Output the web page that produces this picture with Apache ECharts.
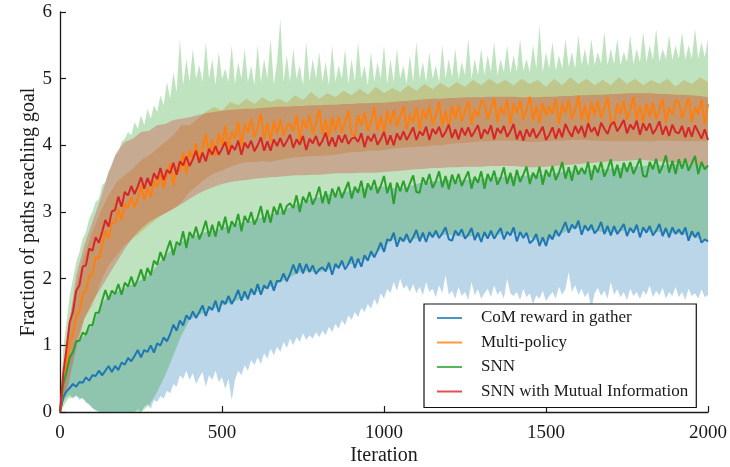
<!DOCTYPE html>
<html>
<head>
<meta charset="utf-8">
<script src="https://cdn.jsdelivr.net/npm/echarts@6/dist/echarts.min.js"></script>
<style>
  html, body { margin: 0; padding: 0; background: #fff; }
  #chart { width: 730px; height: 467px; }
</style>
</head>
<body>
<div id="chart"></div>
<script>
// Mean curves: one value every LINE_STEP iterations (0..2000)
const LINE_STEP = 10;
// Band edges: coarse edges every BAND_STEP, ragged edges every FINE_STEP
const BAND_STEP = 25;
const FINE_STEP = 10;

const seriesNames = ['CoM reward in gather', 'Multi-policy', 'SNN', 'SNN with Mutual Information'];
const seriesColors = ['#1f77b4', '#ff7f0e', '#2ca02c', '#d62728'];
const xTicks = [0, 500, 1000, 1500, 2000];
const yTicks = [0, 1, 2, 3, 4, 5, 6];

const comMean = [0.0,
  0.22, 0.31, 0.36, 0.42, 0.38, 0.45, 0.44, 0.52, 0.47, 0.55,
  0.54, 0.62, 0.55, 0.62, 0.69, 0.6, 0.69, 0.63, 0.74, 0.71,
  0.81, 0.76, 0.84, 0.93, 0.82, 0.93, 0.9, 1.0, 0.89, 1.03,
  1.0, 1.12, 1.06, 1.17, 1.31, 1.22, 1.37, 1.3, 1.45, 1.39,
  1.51, 1.41, 1.5, 1.6, 1.44, 1.58, 1.53, 1.67, 1.5, 1.67,
  1.62, 1.74, 1.62, 1.71, 1.83, 1.67, 1.81, 1.69, 1.85, 1.76,
  1.92, 1.76, 1.9, 1.85, 1.97, 1.82, 1.97, 1.96, 2.08, 1.96,
  2.07, 2.21, 2.08, 2.23, 2.08, 2.22, 2.1, 2.2, 2.07, 2.14,
  2.17, 2.11, 2.24, 2.06, 2.22, 2.16, 2.27, 2.14, 2.22, 2.33,
  2.16, 2.3, 2.18, 2.35, 2.27, 2.41, 2.32, 2.42, 2.54, 2.4,
  2.59, 2.57, 2.69, 2.48, 2.62, 2.56, 2.67, 2.54, 2.62, 2.73,
  2.56, 2.69, 2.55, 2.7, 2.62, 2.72, 2.61, 2.68, 2.77, 2.59,
  2.57, 2.72, 2.65, 2.74, 2.6, 2.66, 2.76, 2.58, 2.69, 2.55,
  2.7, 2.6, 2.72, 2.6, 2.68, 2.76, 2.59, 2.7, 2.65, 2.77,
  2.56, 2.7, 2.61, 2.69, 2.53, 2.58, 2.67, 2.49, 2.62, 2.49,
  2.66, 2.59, 2.73, 2.64, 2.74, 2.85, 2.69, 2.81, 2.75, 2.87,
  2.66, 2.8, 2.72, 2.81, 2.68, 2.74, 2.85, 2.67, 2.79, 2.65,
  2.79, 2.67, 2.74, 2.82, 2.64, 2.76, 2.69, 2.81, 2.62, 2.77,
  2.69, 2.79, 2.65, 2.72, 2.82, 2.64, 2.76, 2.62, 2.77, 2.67,
  2.74, 2.66, 2.77, 2.57, 2.71, 2.62, 2.7, 2.54, 2.59, 2.56];

const multiMean = [0.0,
  0.38, 0.72, 1.06, 1.16, 1.44, 1.5, 1.78, 1.82, 2.04, 2.06,
  2.33, 2.3, 2.5, 2.72, 2.6, 2.84, 2.84, 3.04, 2.88, 3.12,
  3.06, 3.23, 3.07, 3.21, 3.39, 3.18, 3.37, 3.22, 3.47, 3.37,
  3.59, 3.36, 3.54, 3.73, 3.4, 3.67, 3.61, 3.9, 3.57, 3.93,
  3.8, 4.03, 3.77, 3.95, 4.17, 3.83, 4.09, 3.84, 4.18, 4.0,
  4.29, 3.95, 4.2, 4.1, 4.35, 3.99, 4.32, 4.19, 4.4, 4.12,
  4.27, 4.47, 4.1, 4.33, 4.06, 4.37, 4.17, 4.39, 4.14, 4.29,
  4.33, 4.21, 4.45, 4.07, 4.39, 4.25, 4.46, 4.17, 4.33, 4.54,
  4.17, 4.39, 4.12, 4.42, 4.21, 4.43, 4.19, 4.35, 4.52, 4.17,
  4.14, 4.45, 4.3, 4.5, 4.21, 4.36, 4.57, 4.21, 4.44, 4.19,
  4.52, 4.32, 4.53, 4.28, 4.43, 4.59, 4.23, 4.46, 4.34, 4.57,
  4.23, 4.54, 4.39, 4.59, 4.3, 4.45, 4.65, 4.29, 4.52, 4.25,
  4.59, 4.39, 4.61, 4.36, 4.51, 4.67, 4.31, 4.55, 4.43, 4.67,
  4.64, 4.39, 4.55, 4.71, 4.35, 4.58, 4.46, 4.69, 4.31, 4.63,
  4.47, 4.67, 4.38, 4.53, 4.73, 4.37, 4.6, 4.33, 4.64, 4.44,
  4.59, 4.47, 4.7, 4.32, 4.63, 4.48, 4.68, 4.39, 4.54, 4.74,
  4.38, 4.61, 4.34, 4.65, 4.45, 4.66, 4.41, 4.56, 4.72, 4.36,
  4.31, 4.62, 4.47, 4.67, 4.38, 4.53, 4.73, 4.37, 4.6, 4.33,
  4.63, 4.43, 4.64, 4.39, 4.54, 4.7, 4.34, 4.57, 4.45, 4.68,
  4.65, 4.4, 4.55, 4.71, 4.35, 4.58, 4.46, 4.69, 4.31, 4.62];

const snnMean = [0.0,
  0.42, 0.6, 0.82, 0.9, 1.06, 1.07, 1.19, 1.16, 1.3, 1.3,
  1.49, 1.49, 1.67, 1.83, 1.68, 1.82, 1.77, 1.92, 1.76, 1.94,
  1.88, 2.03, 1.88, 1.99, 2.14, 1.97, 2.16, 2.05, 2.27, 2.21,
  2.4, 2.27, 2.43, 2.57, 2.35, 2.55, 2.5, 2.71, 2.46, 2.7,
  2.61, 2.78, 2.59, 2.71, 2.87, 2.63, 2.81, 2.63, 2.86, 2.73,
  2.93, 2.68, 2.86, 2.78, 2.97, 2.71, 2.94, 2.84, 3.0, 2.81,
  2.92, 3.09, 2.84, 3.03, 2.84, 3.08, 2.96, 3.13, 2.96, 3.09,
  3.13, 3.06, 3.25, 3.0, 3.23, 3.14, 3.3, 3.11, 3.22, 3.38,
  3.13, 3.31, 3.12, 3.35, 3.22, 3.38, 3.21, 3.33, 3.45, 3.2,
  3.38, 3.29, 3.47, 3.21, 3.43, 3.33, 3.48, 3.28, 3.39, 3.54,
  3.28, 3.44, 3.12, 3.44, 3.31, 3.47, 3.3, 3.43, 3.55, 3.3,
  3.29, 3.52, 3.41, 3.57, 3.36, 3.46, 3.61, 3.37, 3.54, 3.34,
  3.56, 3.42, 3.57, 3.39, 3.5, 3.61, 3.35, 3.53, 3.44, 3.61,
  3.35, 3.57, 3.46, 3.62, 3.41, 3.51, 3.67, 3.42, 3.59, 3.39,
  3.63, 3.45, 3.56, 3.68, 3.42, 3.59, 3.5, 3.68, 3.41, 3.63,
  3.53, 3.69, 3.48, 3.59, 3.75, 3.5, 3.67, 3.47, 3.7, 3.56,
  3.66, 3.57, 3.75, 3.48, 3.7, 3.59, 3.75, 3.53, 3.64, 3.79,
  3.54, 3.71, 3.51, 3.74, 3.6, 3.75, 3.57, 3.68, 3.8, 3.54,
  3.53, 3.75, 3.64, 3.8, 3.58, 3.69, 3.85, 3.59, 3.77, 3.57,
  3.79, 3.65, 3.8, 3.62, 3.73, 3.84, 3.57, 3.75, 3.64, 3.7];

const snnMiMean = [0.0,
  0.58, 0.95, 1.35, 1.5, 1.82, 1.9, 2.18, 2.2, 2.45, 2.42,
  2.62, 2.54, 2.7, 2.88, 2.78, 3.01, 3.03, 3.23, 3.08, 3.3,
  3.25, 3.39, 3.27, 3.38, 3.52, 3.35, 3.51, 3.39, 3.58, 3.49,
  3.66, 3.48, 3.63, 3.58, 3.74, 3.56, 3.76, 3.7, 3.83, 3.69,
  3.79, 3.92, 3.74, 3.89, 3.76, 3.95, 3.86, 3.99, 3.86, 3.95,
  4.05, 3.86, 4.0, 3.93, 4.07, 3.86, 4.04, 3.96, 4.07, 3.91,
  4.0, 4.12, 3.92, 4.06, 3.92, 4.09, 3.99, 4.11, 3.98, 4.06,
  4.16, 3.96, 4.09, 4.01, 4.14, 3.93, 4.1, 4.03, 4.14, 3.99,
  4.07, 4.19, 3.99, 4.12, 3.98, 4.15, 4.04, 4.16, 4.02, 4.1,
  4.12, 4.05, 4.18, 3.97, 4.14, 4.06, 4.17, 4.01, 4.09, 4.2,
  4.01, 4.15, 4.0, 4.18, 4.08, 4.21, 4.08, 4.17, 4.27, 4.08,
  4.21, 4.15, 4.28, 4.08, 4.25, 4.17, 4.28, 4.12, 4.2, 4.31,
  4.11, 4.24, 4.09, 4.26, 4.15, 4.27, 4.13, 4.21, 4.3, 4.1,
  4.24, 4.17, 4.3, 4.09, 4.26, 4.18, 4.29, 4.13, 4.21, 4.32,
  4.09, 4.22, 4.07, 4.24, 4.13, 4.25, 4.11, 4.19, 4.28, 4.08,
  4.16, 4.27, 4.1, 4.25, 4.12, 4.32, 4.21, 4.13, 4.29, 4.18,
  4.29, 4.12, 4.33, 4.2, 4.27, 4.14, 4.34, 4.25, 4.17, 4.31,
  4.35, 4.21, 4.29, 4.38, 4.18, 4.31, 4.24, 4.37, 4.16, 4.33,
  4.22, 4.33, 4.17, 4.25, 4.36, 4.16, 4.29, 4.14, 4.31, 4.2,
  4.18, 4.29, 4.12, 4.27, 4.13, 4.3, 4.2, 4.1, 4.24, 4.08];

// Band edges
const comLower = [ // every FINE_STEP
  0, 0.15, 0.22, 0.26, 0.2, 0.25, 0.18, 0.22, 0.14, 0.12, 0.06,
  0.02, 0, 0, 0, 0, 0, 0, 0, 0, 0,
  0, 0, 0, 0.04, 0, 0.08, 0.12, 0.05, 0.18, 0.15,
  0.24, 0.2, 0.32, 0.28, 0.42, 0.38, 0.55, 0.5, 0.62, 0.48,
  0.58, 0.42, 0.52, 0.6, 0.38, 0.55, 0.48, 0.62, 0.45, 0.52,
  0.35, 0.5, 0.18, 0.48, 0.62, 0.55, 0.7, 0.62, 0.78, 0.7,
  0.82, 0.72, 0.88, 0.8, 0.95, 0.85, 0.98, 0.9, 1.05, 0.96,
  1.1, 1.0, 1.12, 1.05, 1.18, 1.08, 1.15, 1.1, 1.2, 1.12,
  1.22, 1.15, 1.28, 1.2, 1.32, 1.25, 1.38, 1.3, 1.45, 1.38,
  1.5, 1.42, 1.56, 1.5, 1.62, 1.55, 1.7, 1.6, 1.78, 1.7,
  1.85, 1.78, 1.95, 1.82, 2.0, 1.85, 1.9, 1.8, 1.92, 1.78,
  1.88, 1.75, 1.95, 1.8, 1.85, 1.72, 1.9, 1.78, 2.05, 1.76,
  1.82, 1.7, 1.88, 1.74, 1.8, 1.68, 1.95, 1.75, 1.84, 1.7,
  1.78, 1.85, 1.72, 1.9, 1.76, 1.82, 1.7, 2.0, 1.78, 1.74,
  1.8, 1.68, 1.85, 1.72, 1.78, 1.62, 1.75, 1.7, 1.82, 1.66,
  1.74, 1.8, 1.7, 1.88, 1.76, 1.84, 2.1, 1.8, 1.9, 1.76,
  1.85, 1.72, 1.8, 1.55, 1.78, 1.86, 1.74, 1.82, 1.7, 1.95,
  1.76, 1.84, 1.72, 1.8, 1.68, 1.85, 1.74, 1.8, 1.7, 1.82,
  1.76, 1.9, 1.72, 1.82, 1.75, 1.86, 1.7, 1.8, 1.74, 1.88,
  1.72, 1.8, 1.68, 1.85, 1.74, 1.78, 1.7, 1.84, 1.72, 1.76];
const comUpper = [ // every BAND_STEP
  0.05, 0.75, 1.02, 1.15, 1.3, 1.6, 1.75, 1.8,
  1.86, 1.92, 1.98, 2.05, 2.2, 2.35, 2.45, 2.55,
  2.62, 2.66, 2.7, 2.72, 2.76, 2.8, 2.83, 2.85,
  2.88, 2.92, 2.96, 3.0, 3.05, 3.1, 3.15, 3.2,
  3.22, 3.26, 3.28, 3.3, 3.32, 3.35, 3.36, 3.38,
  3.38, 3.36, 3.35, 3.38, 3.42, 3.45, 3.46, 3.47,
  3.48, 3.48, 3.48, 3.49, 3.5, 3.51, 3.52, 3.53,
  3.53, 3.54, 3.55, 3.56, 3.56, 3.58, 3.6, 3.61,
  3.62, 3.63, 3.63, 3.64, 3.65, 3.66, 3.67, 3.68,
  3.69, 3.7, 3.7, 3.71, 3.72, 3.72, 3.72, 3.7,
  3.68];
const multiLower = [ // every BAND_STEP
  0, 0.65, 1.05, 1.4, 1.6, 1.95, 2.2, 2.35,
  2.5, 2.6, 2.7, 2.8, 2.9, 2.98, 3.05, 3.15,
  3.3, 3.4, 3.5, 3.58, 3.62, 3.68, 3.72, 3.75,
  3.75, 3.76, 3.75, 3.78, 3.8, 3.82, 3.83, 3.84,
  3.84, 3.85, 3.86, 3.88, 3.9, 3.9, 3.92, 3.92,
  3.93, 3.95, 3.96, 3.97, 3.98, 3.98, 4.0, 4.0,
  4.02, 4.03, 4.04, 4.05, 4.06, 4.06, 4.07, 4.07,
  4.07, 4.06, 4.05, 4.05, 4.06, 4.07, 4.07, 4.08,
  4.08, 4.08, 4.07, 4.07, 4.06, 4.06, 4.06, 4.06,
  4.06, 4.06, 4.07, 4.07, 4.07, 4.06, 4.06, 4.06,
  4.06];
const multiUpper = [ // every BAND_STEP
  0, 1.3, 1.9, 2.35, 2.7, 3.0, 3.25, 3.45,
  3.55, 3.65, 3.78, 3.85, 3.95, 4.05, 4.15, 4.3,
  4.3, 4.4, 4.5, 4.58, 4.52, 4.65, 4.6, 4.7,
  4.62, 4.72, 4.65, 4.7, 4.64, 4.75, 4.68, 4.8,
  4.7, 4.78, 4.72, 4.82, 4.75, 4.85, 4.76, 4.88,
  4.78, 4.86, 4.8, 4.9, 4.82, 4.92, 4.84, 4.94,
  4.86, 4.95, 4.88, 4.98, 4.9, 5.0, 4.92, 4.98,
  4.9, 5.0, 4.92, 4.98, 4.88, 5.0, 4.9, 5.02,
  4.92, 5.0, 4.9, 4.98, 4.9, 5.02, 4.92, 5.0,
  4.9, 4.98, 4.92, 5.0, 4.88, 4.98, 4.92, 5.02,
  4.95];
const snnLower = [ // every BAND_STEP
  0, 0.2, 0.24, 0.18, 0.06, 0, 0, 0,
  0, 0, 0, 0.1, 0.3, 0.55, 0.85, 1.15,
  1.38, 1.45, 1.5, 1.55, 1.6, 1.64, 1.68, 1.72,
  1.78, 1.83, 1.88, 1.93, 2.0, 2.06, 2.12, 2.1,
  2.1, 2.13, 2.16, 2.2, 2.22, 2.26, 2.3, 2.38,
  2.48, 2.58, 2.56, 2.58, 2.6, 2.62, 2.64, 2.66,
  2.66, 2.64, 2.62, 2.64, 2.62, 2.64, 2.66, 2.68,
  2.68, 2.66, 2.62, 2.56, 2.56, 2.62, 2.68, 2.74,
  2.76, 2.74, 2.72, 2.7, 2.7, 2.71, 2.72, 2.73,
  2.72, 2.7, 2.7, 2.69, 2.68, 2.66, 2.64, 2.6,
  2.56];
const snnUpper = [ // every FINE_STEP
  0.1, 0.95, 1.35, 1.75, 2.0, 2.25, 2.4, 2.6, 2.7, 2.9, 3.0,
  3.15, 3.2, 3.4, 3.45, 3.6, 3.7, 3.85, 3.9, 4.05, 4.1,
  4.2, 4.15, 4.35, 4.25, 4.45, 4.3, 4.55, 4.4, 4.6, 4.5,
  4.75, 4.6, 4.95, 4.7, 5.1, 4.8, 5.6, 4.9, 5.3, 4.95,
  5.45, 5.0, 5.2, 4.95, 5.55, 5.0, 5.3, 4.9, 5.4, 5.0,
  5.15, 4.95, 5.5, 4.92, 5.25, 5.0, 5.45, 4.95, 5.2, 4.9,
  5.5, 4.95, 5.3, 5.0, 5.6, 4.92, 5.25, 5.9, 4.95, 5.35,
  4.95, 5.45, 5.0, 5.2, 4.9, 5.55, 4.95, 5.3, 5.0, 5.4,
  4.95, 5.25, 4.9, 5.5, 4.95, 5.2, 5.0, 5.45, 4.92, 5.3,
  4.95, 5.55, 5.0, 5.2, 4.9, 5.4, 4.95, 5.25, 5.0, 5.5,
  4.92, 5.3, 4.95, 5.45, 5.0, 5.2, 4.92, 5.35, 4.95, 5.55,
  5.0, 5.25, 4.95, 5.4, 5.0, 5.2, 4.95, 5.5, 5.0, 5.3,
  5.02, 5.45, 5.0, 5.25, 5.05, 5.6, 5.0, 5.3, 5.05, 5.45,
  5.05, 5.35, 5.1, 5.55, 5.05, 5.3, 5.1, 5.5, 5.08, 5.35,
  5.1, 5.6, 5.12, 5.3, 5.1, 5.5, 5.15, 5.8, 5.1, 5.4,
  5.15, 5.55, 5.12, 5.35, 5.15, 5.6, 5.18, 5.4, 5.15, 5.65,
  5.2, 5.45, 5.18, 5.6, 5.2, 5.4, 5.22, 5.7, 5.2, 5.45,
  5.22, 5.6, 5.2, 5.4, 5.25, 5.65, 5.22, 5.45, 5.25, 5.7,
  5.25, 5.5, 5.28, 5.75, 5.25, 5.45, 5.3, 5.65, 5.28, 5.5,
  5.3, 5.7, 5.28, 5.5, 5.3, 5.75, 5.3, 5.55, 5.32, 5.6];
const snnMiLower = [ // every BAND_STEP
  0, 0.4, 0.95, 1.4, 1.65, 1.85, 2.05, 2.25,
  2.45, 2.62, 2.75, 2.85, 2.92, 2.98, 3.05, 3.12,
  3.2, 3.27, 3.33, 3.38, 3.42, 3.45, 3.47, 3.48,
  3.5, 3.51, 3.52, 3.53, 3.54, 3.55, 3.55, 3.56,
  3.56, 3.57, 3.58, 3.58, 3.58, 3.59, 3.59, 3.59,
  3.6, 3.61, 3.62, 3.63, 3.64, 3.65, 3.66, 3.66,
  3.67, 3.67, 3.68, 3.68, 3.68, 3.69, 3.69, 3.69,
  3.69, 3.68, 3.67, 3.67, 3.68, 3.69, 3.7, 3.71,
  3.72, 3.73, 3.74, 3.75, 3.76, 3.76, 3.77, 3.78,
  3.78, 3.77, 3.76, 3.75, 3.74, 3.73, 3.72, 3.7,
  3.66];
const snnMiUpper = [ // every BAND_STEP
  0.1, 1.2, 2.05, 2.5, 2.85, 3.2, 3.6, 3.9,
  4.05, 4.1, 4.2, 4.22, 4.3, 4.32, 4.38, 4.4,
  4.42, 4.45, 4.48, 4.5, 4.52, 4.53, 4.54, 4.55,
  4.55, 4.56, 4.57, 4.58, 4.58, 4.59, 4.59, 4.6,
  4.6, 4.61, 4.61, 4.62, 4.62, 4.63, 4.63, 4.64,
  4.64, 4.65, 4.66, 4.67, 4.68, 4.69, 4.7, 4.7,
  4.71, 4.71, 4.72, 4.72, 4.72, 4.73, 4.73, 4.73,
  4.73, 4.72, 4.72, 4.72, 4.73, 4.73, 4.74, 4.74,
  4.75, 4.75, 4.76, 4.76, 4.77, 4.77, 4.78, 4.78,
  4.78, 4.78, 4.77, 4.77, 4.76, 4.76, 4.75, 4.74,
  4.72];

const means = [comMean, multiMean, snnMean, snnMiMean];
const bands = [
  { lower: comLower, lowerStep: FINE_STEP, upper: comUpper, upperStep: BAND_STEP },
  { lower: multiLower, lowerStep: BAND_STEP, upper: multiUpper, upperStep: BAND_STEP },
  { lower: snnLower, lowerStep: BAND_STEP, upper: snnUpper, upperStep: FINE_STEP },
  { lower: snnMiLower, lowerStep: BAND_STEP, upper: snnMiUpper, upperStep: BAND_STEP }
];

const FONT = 'Liberation Serif';
const INK = '#1a1a1a';

function toPairs(values, step) {
  return values.map((v, i) => [i * step, v]);
}

function hexToRgba(hex, a) {
  const n = parseInt(hex.slice(1), 16);
  return 'rgba(' + ((n >> 16) & 255) + ',' + ((n >> 8) & 255) + ',' + (n & 255) + ',' + a + ')';
}

// Filled spread band drawn as one polygon in data space
function bandSeries(idx) {
  const b = bands[idx];
  return {
    type: 'custom',
    name: seriesNames[idx] + ' band',
    silent: true,
    clip: true,
    z: 1,
    data: [[0, 0]],
    renderItem: function (params, api) {
      const pts = [];
      for (let k = 0; k < b.upper.length; k++) pts.push(api.coord([k * b.upperStep, b.upper[k]]));
      for (let k = b.lower.length - 1; k >= 0; k--) pts.push(api.coord([k * b.lowerStep, b.lower[k]]));
      return {
        type: 'polygon',
        shape: { points: pts },
        style: { fill: hexToRgba(seriesColors[idx], 0.3), stroke: null }
      };
    }
  };
}

function lineSeries(idx) {
  return {
    type: 'line',
    name: seriesNames[idx],
    data: toPairs(means[idx], LINE_STEP),
    showSymbol: false,
    symbol: 'none',
    z: 3 + idx,
    clip: true,
    lineStyle: { color: seriesColors[idx], width: 2 },
    itemStyle: { color: seriesColors[idx] },
    emphasis: { disabled: true }
  };
}

const series = [];
[0, 1, 2, 3].forEach(i => series.push(bandSeries(i)));
[0, 1, 2, 3].forEach(i => series.push(lineSeries(i)));

const chart = echarts.init(document.getElementById('chart'), null, { renderer: 'canvas' });
chart.setOption({
  animation: false,
  backgroundColor: '#fff',
  textStyle: { fontFamily: FONT },
  grid: { left: 60, right: 22, top: 12, bottom: 55, containLabel: false, outerBoundsMode: 'none' },
  xAxis: {
    type: 'value',
    min: xTicks[0],
    max: xTicks[xTicks.length - 1],
    interval: xTicks[1] - xTicks[0],
    name: 'Iteration',
    nameLocation: 'middle',
    nameGap: 34,
    nameMoveOverlap: false,
    nameTextStyle: { fontFamily: FONT, fontSize: 20, color: INK },
    axisLine: { lineStyle: { color: INK, width: 1.3 } },
    axisTick: { inside: true, length: 6, lineStyle: { color: INK, width: 1.2 } },
    axisLabel: { fontFamily: FONT, fontSize: 19, color: INK, margin: 12, formatter: v => String(v) },
    splitLine: { show: false }
  },
  yAxis: {
    type: 'value',
    min: yTicks[0],
    max: yTicks[yTicks.length - 1],
    interval: yTicks[1] - yTicks[0],
    name: 'Fraction of paths reaching goal',
    nameLocation: 'middle',
    nameGap: 21,
    nameMoveOverlap: false,
    nameTextStyle: { fontFamily: FONT, fontSize: 20, color: INK },
    axisLine: { lineStyle: { color: INK, width: 1.3 } },
    axisTick: { inside: true, length: 6, lineStyle: { color: INK, width: 1.2 } },
    axisLabel: { fontFamily: FONT, fontSize: 19, color: INK, margin: 8 },
    splitLine: { show: false }
  },
  legend: {
    orient: 'vertical',
    left: 424,
    top: 304,
    padding: [4, 8, 6, 13],
    itemGap: 4.5,
    itemWidth: 25,
    itemHeight: 2,
    icon: 'rect',
    backgroundColor: '#fff',
    borderColor: '#111',
    borderWidth: 1.2,
    borderRadius: 0,
    selectedMode: false,
    textStyle: { fontFamily: FONT, fontSize: 17, color: INK, lineHeight: 20, padding: [0, 0, 0, 14] },
    data: seriesNames.map((n, i) => ({ name: n, itemStyle: { color: hexToRgba(seriesColors[i], 0.8) } }))
  },
  series: series
});
</script>
</body>
</html>
